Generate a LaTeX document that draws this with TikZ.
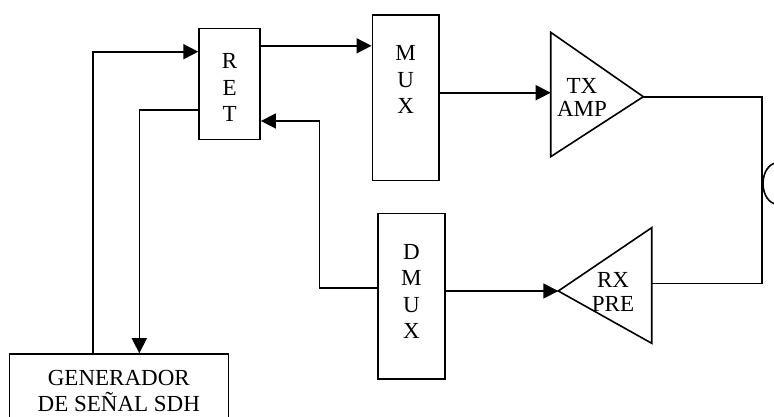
\documentclass[tikz,border=0pt]{standalone}
\usepackage{fontspec}
\setmainfont{Liberation Serif}
\usetikzlibrary{arrows.meta}

\tikzset{
  box/.style={draw, line width=1.6pt, inner sep=0pt},
  txt/.style={align=center, inner sep=0pt, font=\fontsize{23}{26.5}\selectfont},
  tritxt/.style={align=center, inner sep=0pt, font=\fontsize{23}{23.5}\selectfont},
  arr/.style={-{Triangle[length=15pt,width=15pt]}, line width=1.6pt},
}

\begin{document}
\begin{tikzpicture}[x=1pt, y=-1pt, line join=miter]
  \useasboundingbox (0,0) rectangle (774,416);

  % Bloques
  \node[box, minimum width=61pt, minimum height=111pt] (ret) at (229.6,83.8) {};
  \node[box, minimum width=66.7pt, minimum height=165.6pt] (mux) at (405.7,97.5) {};
  \node[box, minimum width=67.3pt, minimum height=165.7pt] (dmux) at (411.4,296.2) {};
  \node[box, txt, minimum width=219pt, minimum height=74pt] (gen) at (118.8,391)
    {GENERADOR\\DE SEÑAL SDH};

  % Textos de los bloques
  \node[txt] (rettxt) at ([yshift=-4pt]ret.center) {R\\E\\T};
  \node[txt] (muxtxt) at ([yshift=18pt]mux.center) {M\\U\\X};
  \node[txt] (dmuxtxt) at ([yshift=4.7pt]dmux.center) {D\\M\\U\\X};

  % Amplificadores
  \coordinate (txtop) at (550.7,32.3);
  \coordinate (txbot) at (550.7,156.7);
  \coordinate (txout) at (643.3,96.7);
  \coordinate (rxtop) at (651.7,227.7);
  \coordinate (rxbot) at (651.7,343.3);
  \coordinate (rxin) at (558.3,291);
  \coordinate (rxback) at (651.7,283.3);
  \draw[line width=1.6pt] (txtop) -- (txout) -- (txbot) -- cycle;
  \draw[line width=1.6pt] (rxtop) -- (rxin) -- (rxbot) -- cycle;
  \node[tritxt] (txamp) at (582,97.5) {TX\\AMP};
  \node[tritxt] (rxpre) at (613,292.2) {RX\\PRE};

  % Fibra
  \coordinate (fiber) at (761.7,183.5);
  \draw[line width=1.6pt] (fiber) ++(15.3,0) ellipse [x radius=14, y radius=20.5];

  % Conexiones
  \draw[arr] ([yshift=38pt]ret.east) -- ([yshift=38pt]ret.east -| mux.west);
  \draw[arr] ([yshift=4.8pt]mux.east) -- ([yshift=4.8pt]mux.east -| txtop);
  \draw[line width=1.6pt] (txout) -| (fiber) |- (rxback);
  \draw[arr] (dmux.east |- rxin) -- (rxin);
  \draw[arr] ([yshift=8pt]dmux.west) -- ++(-57.4,0) |- ([yshift=-37.2pt]ret.east);
  \draw[arr] ([yshift=-26.2pt]ret.west) -| ([xshift=20.5pt]gen.north);
  \draw[arr] ([xshift=-26.1pt]gen.north) |- ([yshift=32.1pt]ret.west);
\end{tikzpicture}
\end{document}
